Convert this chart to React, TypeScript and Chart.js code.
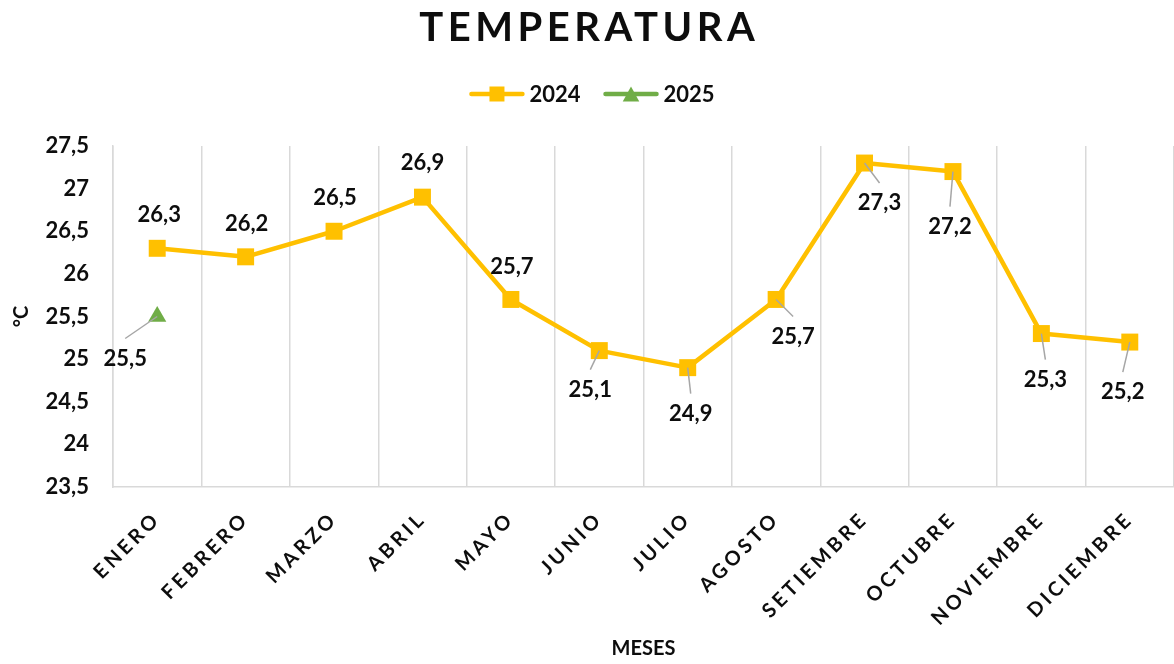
import React, { useEffect, useRef } from 'react';
import { Chart, registerables } from 'chart.js';

Chart.register(...registerables);

const TITLE = 'TEMPERATURA';
const X_TITLE = 'MESES';
const Y_TITLE = '°C';
const MONTHS = ['ENERO', 'FEBRERO', 'MARZO', 'ABRIL', 'MAYO', 'JUNIO', 'JULIO', 'AGOSTO', 'SETIEMBRE', 'OCTUBRE', 'NOVIEMBRE', 'DICIEMBRE'];
const SERIES_NAMES = ['2024', '2025'];
const VALUES_2024 = [26.3, 26.2, 26.5, 26.9, 25.7, 25.1, 24.9, 25.7, 27.3, 27.2, 25.3, 25.2];
const VALUES_2025 = [25.5, null, null, null, null, null, null, null, null, null, null, null];
const Y_MIN = 23.5;
const Y_MAX = 27.5;
const Y_STEP = 0.5;

// label placement (pixel offsets from each point), style only
const LABEL_OFFSETS_2024 = [[2, -33], [1, -33], [1, -33], [0, -34], [1, -33], [-9, 39], [3, 46], [17, 37], [15, 40], [-3, 55], [4, 46], [-7, 50]];
const LABEL_OFFSETS_2025 = [[-32, 42]];

const COLORS = ['#FFC000', '#70AD47'];
const FONT = 'Lato, "Open Sans", sans-serif';
const TEXT = '#0D0D0D';
const GRID = '#D9D9D9';

const fmt = (v: number) => String(v).replace('.', ',');

function drawMarker(ctx: CanvasRenderingContext2D, kind: string, x: number, y: number, size: number, color: string) {
  ctx.fillStyle = color;
  if (kind === 'rect') {
    ctx.fillRect(x - size / 2, y - size / 2, size, size);
  } else {
    const w = size * 1.1;
    const h = size;
    ctx.beginPath();
    ctx.moveTo(x, y - h / 2);
    ctx.lineTo(x + w / 2, y + h / 2);
    ctx.lineTo(x - w / 2, y + h / 2);
    ctx.closePath();
    ctx.fill();
  }
}

const overlayPlugin = {
  id: 'overlay',
  beforeDraw(chart: any) {
    const xs = chart.scales.x;
    if (xs && !xs.__ls) {
      const orig = xs.drawLabels;
      xs.drawLabels = function (ca: any) {
        const c = this.ctx;
        c.save();
        c.letterSpacing = '3.5px';
        orig.call(this, ca);
        c.restore();
      };
      xs.__ls = true;
    }
  },
  afterDatasetsDraw(chart: any) {
    const ctx = chart.ctx as CanvasRenderingContext2D;
    const offsets = [LABEL_OFFSETS_2024, LABEL_OFFSETS_2025];
    ctx.save();
    chart.data.datasets.forEach((ds: any, di: number) => {
      const meta = chart.getDatasetMeta(di);
      meta.data.forEach((pt: any, i: number) => {
        const v = ds.data[i];
        if (v == null) return;
        const off = offsets[di][i] || [0, -33];
        const lx = pt.x + off[0];
        const ly = pt.y + off[1];
        if (off[1] > 0) {
          ctx.strokeStyle = '#A6A6A6';
          ctx.lineWidth = 1.5;
          ctx.beginPath();
          ctx.moveTo(pt.x, pt.y);
          ctx.lineTo(lx, ly - 20);
          ctx.stroke();
        }
        ctx.font = `bold 22px ${FONT}`;
        ctx.fillStyle = TEXT;
        ctx.textAlign = 'center';
        ctx.textBaseline = 'middle';
        ctx.fillText(fmt(v), lx, ly);
      });
    });
    ctx.restore();
  },
  afterDraw(chart: any) {
    const ctx = chart.ctx as CanvasRenderingContext2D;
    const W = chart.width;
    ctx.save();
    // title
    ctx.font = `bold 40px ${FONT}`;
    (ctx as any).letterSpacing = '4.5px';
    ctx.fillStyle = TEXT;
    ctx.textAlign = 'center';
    ctx.textBaseline = 'middle';
    ctx.fillText(TITLE, W / 2 + 2.25, 28);
    (ctx as any).letterSpacing = '0px';
    // legend
    ctx.font = `bold 22px ${FONT}`;
    const lineLen = 55;
    const gap = 5;
    const itemGap = 23;
    const kinds = ['rect', 'triangle'];
    const widths = SERIES_NAMES.map((n) => lineLen + gap + ctx.measureText(n).width);
    const total = widths.reduce((a, b) => a + b, 0) + itemGap * (widths.length - 1);
    let x = W / 2 + 5 - total / 2;
    const y = 94;
    SERIES_NAMES.forEach((n, i) => {
      ctx.strokeStyle = COLORS[i];
      ctx.lineWidth = 4.5;
      ctx.lineCap = 'round';
      ctx.beginPath();
      ctx.moveTo(x + 2, y);
      ctx.lineTo(x + lineLen - 2, y);
      ctx.stroke();
      drawMarker(ctx, kinds[i], x + lineLen / 2, y, 15, COLORS[i]);
      ctx.fillStyle = TEXT;
      ctx.textAlign = 'left';
      ctx.textBaseline = 'middle';
      ctx.fillText(n, x + lineLen + gap, y + 1);
      x += widths[i] + itemGap;
    });
    ctx.restore();
  },
};

export default function App() {
  const ref = useRef<HTMLCanvasElement | null>(null);
  useEffect(() => {
    if (!ref.current) return;
    const chart = new Chart(ref.current, {
      type: 'line',
      data: {
        labels: MONTHS,
        datasets: [
          {
            label: SERIES_NAMES[0],
            data: VALUES_2024,
            borderColor: COLORS[0],
            backgroundColor: COLORS[0],
            borderWidth: 4.5,
            borderJoinStyle: 'round',
            borderCapStyle: 'round',
            pointStyle: 'rect',
            pointRadius: 12,
            pointHoverRadius: 12,
            pointBorderWidth: 0,
            tension: 0,
          },
          {
            label: SERIES_NAMES[1],
            data: VALUES_2025,
            borderColor: COLORS[1],
            backgroundColor: COLORS[1],
            borderWidth: 4.5,
            pointStyle: 'triangle',
            pointRadius: 10.5,
            pointHoverRadius: 10.5,
            pointBorderWidth: 0,
            spanGaps: false,
          },
        ],
      },
      options: {
        responsive: false,
        animation: false,
        events: [],
        layout: { autoPadding: false, padding: { top: 146, left: 0, right: -2, bottom: 0 } },
        plugins: {
          legend: { display: false },
          title: { display: false },
          tooltip: { enabled: false },
        },
        scales: {
          x: {
            type: 'category',
            offset: true,
            afterFit: (s: any) => { s.height = 177; s.paddingRight = 0; s.paddingLeft = 0; },
            grid: { display: true, offset: true, color: GRID, lineWidth: 1.5, drawTicks: false },
            border: { display: true, color: GRID, width: 1.5 },
            ticks: {
              color: TEXT,
              font: { family: FONT, size: 20, weight: 'bold' },
              minRotation: 45,
              maxRotation: 45,
              padding: 20,
              autoSkip: false,
            },
            title: {
              display: true,
              text: X_TITLE,
              color: TEXT,
              font: { family: FONT, size: 20, weight: 'bold' },
              padding: { top: 10, bottom: 3 },
            },
          },
          y: {
            min: Y_MIN,
            max: Y_MAX,
            afterFit: (s: any) => { s.width = 113; },
            grid: { display: false, drawTicks: false },
            border: { display: true, color: GRID, width: 1.5 },
            ticks: {
              stepSize: Y_STEP,
              color: TEXT,
              font: { family: FONT, size: 22, weight: 'bold' },
              padding: 24,
              callback: (v: any) => fmt(Number(v)),
            },
            title: {
              display: true,
              text: Y_TITLE,
              color: TEXT,
              font: { family: FONT, size: 20, weight: 'bold' },
              padding: { top: 10, bottom: 10 },
            },
          },
        },
      },
      plugins: [overlayPlugin],
    } as any);
    return () => chart.destroy();
  }, []);
  return (
    <div style={{ position: 'absolute', left: 0, top: 0, width: 1174, height: 664, background: '#fff' }}>
      <canvas ref={ref} width={1174} height={664} style={{ display: 'block' }} />
    </div>
  );
}
